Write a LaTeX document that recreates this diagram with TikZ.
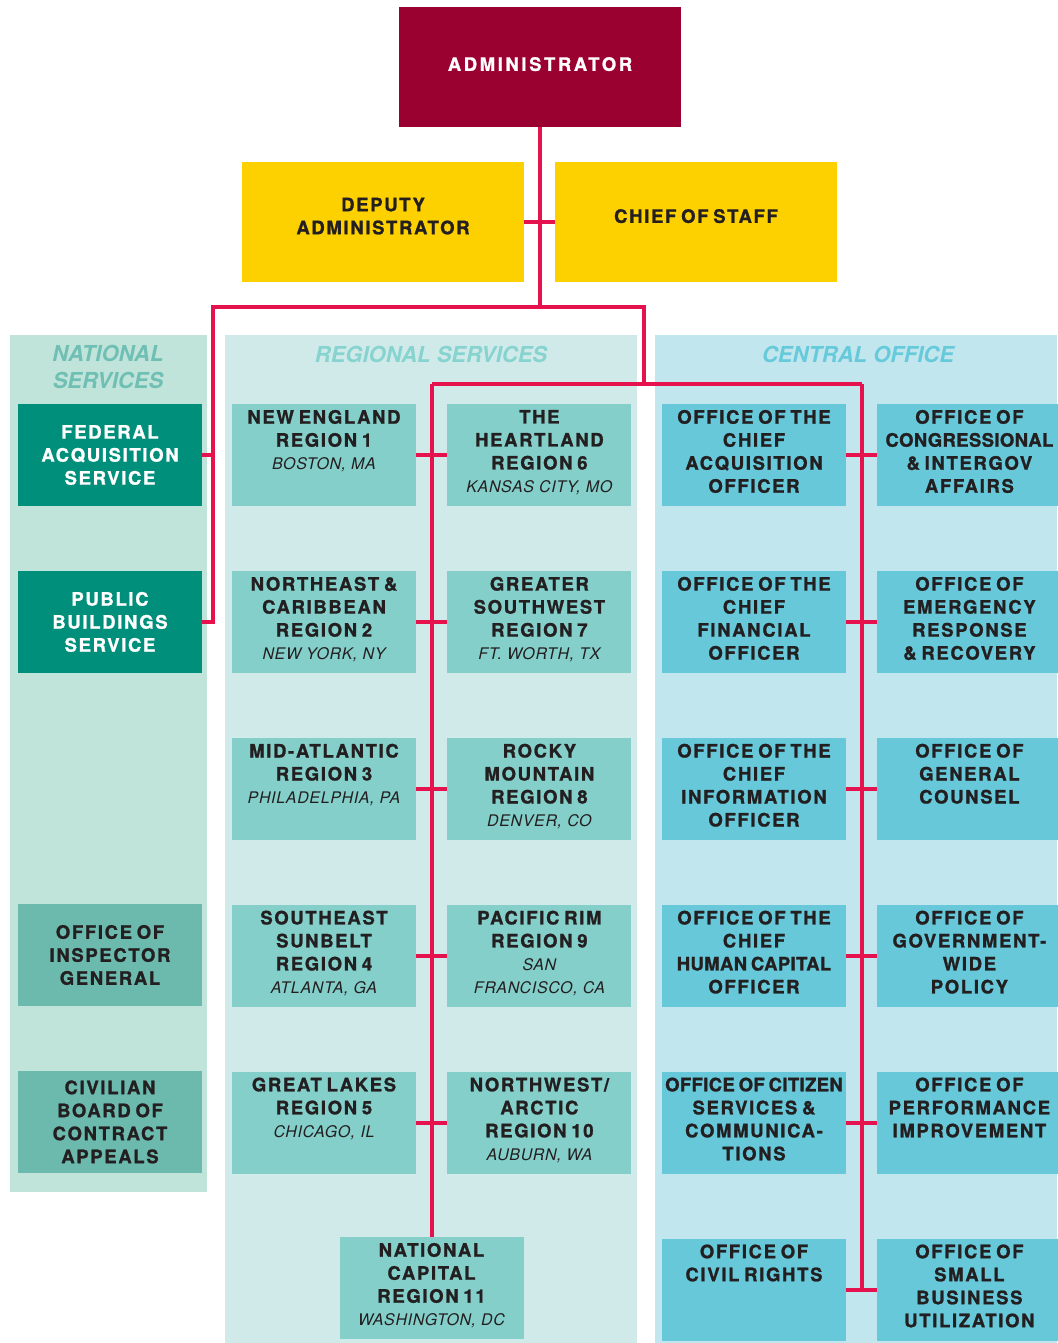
\documentclass[tikz,border=0pt]{standalone}
\usepackage{fontspec}
\setmainfont{TeX Gyre Heros}
\newfontfamily\orgfont[LetterSpace=9,WordSpace=0.7,BoldFeatures={FakeBold=1.2}]{TeX Gyre Heros}
\newfontfamily\cityfont[LetterSpace=4]{TeX Gyre Heros}
\usetikzlibrary{positioning}

\definecolor{GSAmaroon}{RGB}{154,0,48}
\definecolor{GSAgold}{RGB}{253,208,0}
\definecolor{LinkRed}{RGB}{230,18,78}
\definecolor{NatPanel}{RGB}{193,228,218}
\definecolor{RegPanel}{RGB}{208,234,234}
\definecolor{CenPanel}{RGB}{194,230,238}
\definecolor{NatDark}{RGB}{0,143,123}
\definecolor{NatLight}{RGB}{108,185,174}
\definecolor{RegBox}{RGB}{132,207,202}
\definecolor{CenBox}{RGB}{102,200,217}
\definecolor{NatHead}{RGB}{111,191,180}
\definecolor{RegHead}{RGB}{134,211,207}
\definecolor{CenHead}{RGB}{103,202,219}
\definecolor{Ink}{RGB}{35,31,32}

% city under a region name
\newcommand{\city}[1]{{\cityfont\mdseries\itshape\fontsize{16}{21}\selectfont #1}}
% long words set with less tracking
\newcommand{\snug}[1]{{\addfontfeature{LetterSpace=2}#1}}

\begin{document}
\begin{tikzpicture}[x=1pt,y=-1pt,
        node distance=64.5pt and 31pt,
        unit/.style={rectangle,minimum width=184pt,minimum height=102pt,inner sep=0pt,
                     font=\orgfont\bfseries\fontsize{18.5}{23}\selectfont,text=Ink},
        topset/.style={unit,
                       execute at begin node={\begin{minipage}[c][90pt][t]{184pt}\centering},
                       execute at end node={\end{minipage}}},
        lead/.style={unit,align=center,minimum width=282pt,minimum height=120pt,
                     fill=GSAgold,text depth=12pt},
        natbox/.style={unit,align=center,fill=NatLight},
        natkey/.style={unit,align=center,fill=NatDark,text=white},
        regbox/.style={topset,fill=RegBox},
        cenbox/.style={topset,fill=CenBox},
        head/.style={font=\bfseries\itshape\fontsize{22}{27}\selectfont,align=center,inner sep=0pt},
        link/.style={draw=LinkRed,line width=4pt}
      ]
        \useasboundingbox (0,0) rectangle (1057,1343);

        % column panels
        \fill[NatPanel] (10,335) rectangle (207,1192);
        \fill[RegPanel] (225,335) rectangle (637,1343);
        \fill[CenPanel] (655,335) rectangle (1057,1343);

        \node[head,text=NatHead] (nathead) at (108,367) {NATIONAL\\SERVICES};
        \node[head,text=RegHead] (reghead) at (431,354) {REGIONAL SERVICES};
        \node[head,text=CenHead] (cenhead) at (858,354) {CENTRAL OFFICE};

        % top of the chart
        \node[unit,minimum width=282pt,minimum height=120pt,fill=GSAmaroon,text=white,
              text depth=6pt] (admin) at (540,67) {\addfontfeature{LetterSpace=14}ADMINISTRATOR};
        \node[lead] (deputy) at (383,222) {DEPUTY\\ADMINISTRATOR};
        \node[lead] (chief) at (696,222) {CHIEF OF STAFF};

        % national services
        \node[natkey] (fas) at (110,455) {FEDERAL\\ACQUISITION\\SERVICE};
        \node[natkey,below=of fas] (pbs) {PUBLIC\\BUILDINGS\\SERVICE};
        \node[natbox] (oig) at (110,955) {OFFICE OF\\INSPECTOR\\GENERAL};
        \node[natbox,below=of oig] (cbca) {CIVILIAN\\BOARD OF\\CONTRACT\\APPEALS};

        % regional services
        \node[regbox] (ne) at (324,455) {NEW ENGLAND\\REGION 1\\\city{BOSTON, MA}};
        \node[regbox,below=of ne] (nec) {NORTHEAST \&\\CARIBBEAN\\REGION 2\\\city{NEW YORK, NY}};
        \node[regbox,below=of nec] (ma) {MID-ATLANTIC\\REGION 3\\\city{PHILADELPHIA, PA}};
        \node[regbox,below=of ma] (se) {SOUTHEAST\\SUNBELT\\REGION 4\\\city{ATLANTA, GA}};
        \node[regbox,below=of se] (gl) {GREAT LAKES\\REGION 5\\\city{CHICAGO, IL}};
        \node[regbox,right=of ne] (hl) {THE\\HEARTLAND\\REGION 6\\\city{KANSAS CITY, MO}};
        \node[regbox,right=of nec] (gsw) {GREATER\\SOUTHWEST\\REGION 7\\\city{FT. WORTH, TX}};
        \node[regbox,right=of ma] (rm) {ROCKY\\MOUNTAIN\\REGION 8\\\city{DENVER, CO}};
        \node[regbox,right=of se] (pr) {PACIFIC RIM\\REGION 9\\\city{SAN}\\\city{FRANCISCO, CA}};
        \node[regbox,right=of gl] (nwa) {NORTHWEST/\\ARCTIC\\REGION 10\\\city{AUBURN, WA}};
        \node[regbox] (ncr) at (431.5,1288) {NATIONAL\\CAPITAL\\REGION 11\\\city{WASHINGTON, DC}};

        % central office
        \node[cenbox] (cao) at (754,455) {OFFICE OF THE\\CHIEF\\ACQUISITION\\OFFICER};
        \node[cenbox,below=of cao] (cfo) {OFFICE OF THE\\CHIEF\\FINANCIAL\\OFFICER};
        \node[cenbox,below=of cfo] (cio) {OFFICE OF THE\\CHIEF\\INFORMATION\\OFFICER};
        \node[cenbox,below=of cio] (chco) {OFFICE OF THE\\CHIEF\\\snug{HUMAN CAPITAL}\\OFFICER};
        \node[cenbox,below=of chco] (ocsc) {\snug{OFFICE OF CITIZEN}\\SERVICES \&\\COMMUNICA-\\TIONS};
        \node[cenbox,below=of ocsc] (ocr) {OFFICE OF\\CIVIL RIGHTS};
        \node[cenbox,right=of cao] (ocia) {OFFICE OF\\\snug{CONGRESSIONAL}\\\& INTERGOV\\AFFAIRS};
        \node[cenbox,right=of cfo] (oerr) {OFFICE OF\\EMERGENCY\\RESPONSE\\\& RECOVERY};
        \node[cenbox,right=of cio] (ogc) {OFFICE OF\\GENERAL\\COUNSEL};
        \node[cenbox,right=of chco] (ogp) {OFFICE OF\\GOVERNMENT-\\WIDE\\POLICY};
        \node[cenbox,right=of ocsc] (opi) {OFFICE OF\\PERFORMANCE\\IMPROVEMENT};
        \node[cenbox,right=of ocr] (osbu) {OFFICE OF\\SMALL\\BUSINESS\\UTILIZATION};

        % reporting lines
        \coordinate (fork) at (540,307);
        \coordinate (natfork) at (213,307);
        \coordinate (hub) at (644,307);
        \coordinate (regtop) at (431.5,384);
        \coordinate (centop) at (861.5,384);

        \draw[link] (admin.south) -- (fork);
        \draw[link] (deputy.east) -- (chief.west);
        \draw[link] (pbs.east) -| (natfork) -- (hub) -- (hub |- centop);
        \draw[link] (fas.east) -- (fas.east -| natfork);
        \draw[link] (regtop) -- (centop);
        \draw[link] (regtop) -- (ncr.north);
        \draw[link] (centop) -- (centop |- ocr.east);
        \foreach \a/\b in {ne/hl,nec/gsw,ma/rm,se/pr,gl/nwa,
                           cao/ocia,cfo/oerr,cio/ogc,chco/ogp,ocsc/opi,ocr/osbu}
          \draw[link] (\a.east) -- (\b.west);
      \end{tikzpicture}
\end{document}
